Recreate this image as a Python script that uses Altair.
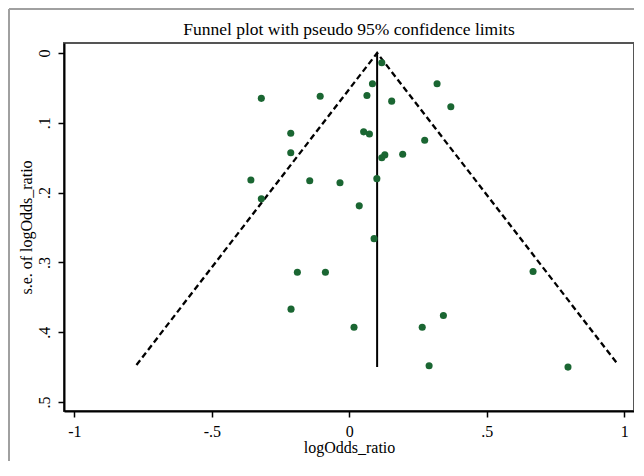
import altair as alt
import pandas as pd

# Study estimates
log_odds = [0.118, 0.084, 0.319, -0.320, -0.106, 0.064, 0.154, 0.369,
            -0.213, 0.052, 0.073, 0.274, -0.213, 0.194, 0.129, 0.118,
            -0.358, -0.144, -0.034, 0.100, -0.320, 0.036, 0.090, -0.189,
            -0.087, 0.668, -0.212, 0.342, 0.017, 0.265, 0.290, 0.795]
se = [0.014, 0.044, 0.044, 0.065, 0.062, 0.061, 0.069, 0.077,
      0.115, 0.113, 0.116, 0.125, 0.143, 0.145, 0.146, 0.150,
      0.182, 0.183, 0.186, 0.180, 0.209, 0.219, 0.266, 0.314,
      0.314, 0.313, 0.367, 0.376, 0.393, 0.393, 0.448, 0.450]

# Pseudo 95% confidence limits and pooled estimate
funnel_x = [-0.774, 0.101, 0.978]
funnel_se = [0.447, 0.0, 0.447]
pooled_x = [0.101, 0.101]
pooled_se = [0.0, 0.45]

x_ticks = [-1, -0.5, 0, 0.5, 1]
y_ticks = [0, 0.1, 0.2, 0.3, 0.4, 0.5]

pts = pd.DataFrame({"logOdds_ratio": log_odds, "se": se})
funnel = pd.DataFrame({"logOdds_ratio": funnel_x, "se": funnel_se, "order": [0, 1, 2]})
pooled = pd.DataFrame({"logOdds_ratio": pooled_x, "se": pooled_se})

FONT = "Liberation Serif"
label_expr = "replace(toString(datum.value), '0.', '.')"

x_scale = alt.Scale(domain=[-1.0375, 1.035], nice=False, zero=False)
y_scale = alt.Scale(domain=[-0.0143, 0.5129], reverse=True, nice=False, zero=False)

x_axis = alt.Axis(values=x_ticks, labelExpr=label_expr, title="logOdds_ratio",
                  grid=False, tickSize=6, labelPadding=6, titlePadding=0,
                  labelFlush=False)
y_axis = alt.Axis(values=y_ticks, labelExpr=label_expr, title="s.e. of logOdds_ratio",
                  grid=False, tickSize=6, labelAngle=270, labelAlign="center",
                  labelBaseline="alphabetic", labelPadding=9, titlePadding=2,
                  labelFlush=False)

x_enc = alt.X("logOdds_ratio:Q", scale=x_scale, axis=x_axis)
y_enc = alt.Y("se:Q", scale=y_scale, axis=y_axis)

dummy = alt.Data(values=[{"k": 1}])
border_left = alt.Chart(dummy).mark_rule(color="#a0a0a0", strokeWidth=2).encode(
    x=alt.value(-55), y=alt.value(-34), y2=alt.value(430))
border_top = alt.Chart(dummy).mark_rule(color="#a0a0a0", strokeWidth=2).encode(
    x=alt.value(-55), x2=alt.value(580), y=alt.value(-34))

pooled_line = alt.Chart(pooled).mark_line(color="black", strokeWidth=2).encode(
    x=x_enc, y=y_enc)
funnel_line = alt.Chart(funnel).mark_line(color="black", strokeWidth=2.3,
                                          strokeDash=[6, 3.5]).encode(
    x=x_enc, y=y_enc, order="order:O")
points = alt.Chart(pts).mark_circle(color="#1a6632", opacity=1, size=50).encode(
    x=x_enc, y=y_enc)

chart = alt.layer(border_left, border_top, pooled_line, funnel_line, points).properties(
    width=570, height=368,
    background="white",
    padding={"left": 56, "top": 35, "right": 0, "bottom": 50},
    autosize=alt.AutoSizeParams(type="none"),
    title=alt.Title("Funnel plot with pseudo 95% confidence limits", fontSize=17.5,
                    font=FONT, fontWeight="normal", offset=5, dy=35,
                    anchor="middle", color="black"),
).configure_view(
    stroke="#555555", strokeWidth=2
).configure_axis(
    domainColor="black", domainWidth=2, tickColor="black", tickWidth=1.5,
    labelFont=FONT, labelFontSize=16, labelColor="black",
    titleFont=FONT, titleFontSize=16, titleFontWeight="normal", titleColor="black"
)

chart.save("out.html", embed_options={"renderer": "svg", "actions": False})
